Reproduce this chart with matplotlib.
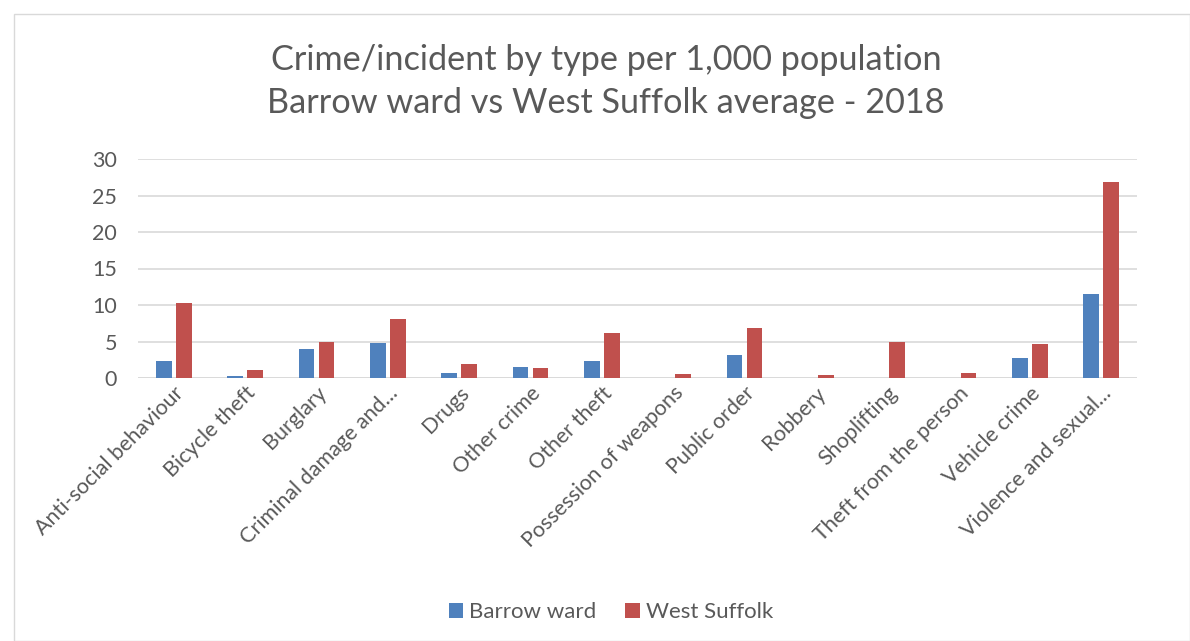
import matplotlib.pyplot as plt
import numpy as np
from matplotlib.patches import Rectangle

categories = ["Anti-social behaviour", "Bicycle theft", "Burglary", "Criminal damage and...",
              "Drugs", "Other crime", "Other theft", "Possession of weapons", "Public order",
              "Robbery", "Shoplifting", "Theft from the person", "Vehicle crime",
              "Violence and sexual..."]
barrow = [2.37, 0.32, 3.97, 4.74, 0.73, 1.55, 2.37, 0.0, 3.15, 0.0, 0.0, 0.0, 2.78, 11.54]
west_suffolk = [10.26, 1.05, 4.92, 8.07, 1.96, 1.37, 6.16, 0.55, 6.79, 0.41, 4.97, 0.64, 4.65, 26.9]
yticks = [0, 5, 10, 15, 20, 25, 30]

plt.rcParams["font.family"] = ["Lato", "DejaVu Sans"]
text_col = "#595959"

fig = plt.figure(figsize=(11.9, 6.41), dpi=100)
fig.patches.append(Rectangle((14 / 1190, 0), 1 - 14 / 1190, 1 - 14 / 641,
                             transform=fig.transFigure, fill=False,
                             edgecolor="#d9d9d9", linewidth=1))
ax = fig.add_axes([138 / 1190, 1 - 378 / 641, 999 / 1190, 219 / 641])

x = np.arange(len(categories))
w = 0.22
ax.bar(x - 0.14, barrow, w, color="#4f81bd", label="Barrow ward", zorder=3)
ax.bar(x + 0.14, west_suffolk, w, color="#c0504d", label="West Suffolk", zorder=3)

ax.set_xlim(-0.5, len(categories) - 0.5)
ax.set_ylim(0, 30)
ax.set_yticks(yticks)
ax.yaxis.grid(True, color="#d9d9d9", linewidth=1.2, zorder=0)
for s in ["top", "right", "left", "bottom"]:
    ax.spines[s].set_visible(False)
ax.axhline(0, color="#d9d9d9", linewidth=1.2, zorder=2)
ax.tick_params(length=0, colors=text_col, labelsize=15.5)
ax.tick_params(axis="y", pad=15)
ax.set_xticks(x)
ax.set_xticklabels(categories, rotation=45, ha="right", rotation_mode="anchor")

fig.text(606 / 1190, 1 - 60 / 641, "Crime/incident by type per 1,000 population",
         ha="center", va="center", fontsize=24.7, color=text_col)
fig.text(606 / 1190, 1 - 103 / 641, "Barrow ward vs West Suffolk average - 2018",
         ha="center", va="center", fontsize=24.7, color=text_col)

fig.legend(loc="center", bbox_to_anchor=(611 / 1190, 1 - 612 / 641), ncol=2, frameon=False,
           fontsize=16, labelcolor=text_col, handlelength=0.65, handleheight=0.65,
           handletextpad=0.27, columnspacing=1.3)

fig.savefig("out.png", dpi=100)
